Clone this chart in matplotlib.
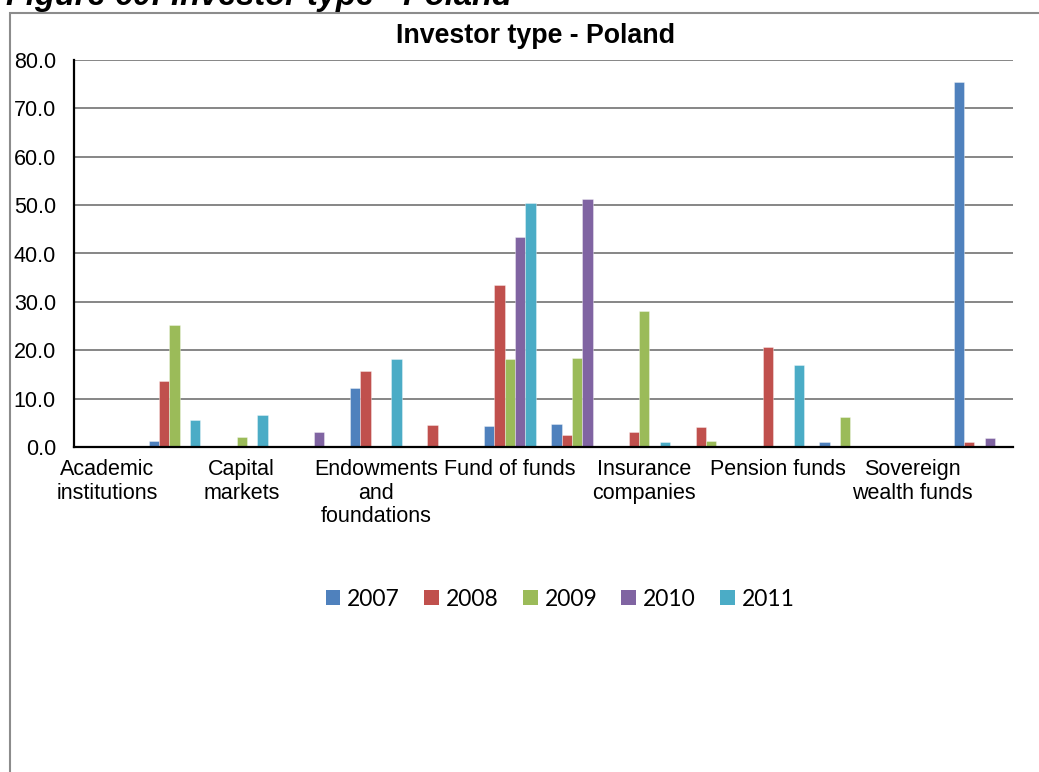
"""Investor type - Poland: share of funds raised by investor type, 2007-2011."""

import numpy as np
import matplotlib
matplotlib.use('Agg')
import matplotlib.pyplot as plt
from matplotlib.patches import Patch, Rectangle

plt.rcParams['font.family'] = ['Liberation Sans', 'DejaVu Sans']

# Investor types (every second one gets a visible axis label)
investor_types = [
    'Academic\ninstitutions', 'Banks', 'Capital\nmarkets', 'Corporate\ninvestors',
    'Endowments\nand\nfoundations', 'Family offices', 'Fund of funds', 'Government\nagencies',
    'Insurance\ncompanies', 'Other asset\nmanagers', 'Pension funds', 'Private\nindividuals',
    'Sovereign\nwealth funds', 'Unclassified',
]
years = ['2007', '2008', '2009', '2010', '2011']

# % of funds raised
share_2007 = [0, 1.3, 0, 0, 12.2, 0, 4.3, 4.8, 0, 0.2, 0, 1.0, 0, 75.5]
share_2008 = [0, 13.7, 0, 0, 15.7, 4.6, 33.4, 2.5, 3.2, 4.1, 20.6, 0.3, 0, 1.0]
share_2009 = [0, 25.2, 2.0, 0, 0, 0, 18.1, 18.4, 28.2, 1.2, 0, 6.3, 0, 0]
share_2010 = [0, 0, 0, 3.2, 0, 0, 43.5, 51.2, 0, 0, 0, 0, 0, 1.8]
share_2011 = [0, 5.5, 6.6, 0, 18.1, 0, 50.5, 0, 1.0, 0, 16.9, 0, 0, 0]
series = [share_2007, share_2008, share_2009, share_2010, share_2011]

colors = ['#4F81BD', '#C0504D', '#9BBB59', '#8064A2', '#4BACC6']

W, H = 1039, 772
fig = plt.figure(figsize=(W / 100, H / 100), dpi=100)

# page caption, partly cut by the top edge
fig.text(6 / W, 1 - 5 / H, 'Figure 60: Investor type - Poland', fontsize=23.5,
         fontweight='bold', fontstyle='italic', ha='left', va='baseline')

# chart frame
fig.add_artist(Rectangle((10 / W, -0.05), 1.2, (1 - 13 / H) + 0.05, transform=fig.transFigure,
                         fill=False, edgecolor='#8c8c8c', linewidth=1.5))

ax = fig.add_axes([74 / W, 1 - 447 / H, (1013 - 74) / W, (447 - 60) / H])

x = np.arange(len(investor_types))
w = 0.154
for i, (yr, vals, c) in enumerate(zip(years, series, colors)):
    ax.bar(x + (i - 2) * w, vals, w, color=c, edgecolor=(1, 1, 1, 0.5), linewidth=0.5,
           label=yr, zorder=2)

ax.set_xlim(-0.5, len(investor_types) - 0.5)
ax.set_ylim(0, 80)
ax.set_yticks(np.arange(0, 81, 10))
ax.set_yticklabels([f'{v:.1f}' for v in np.arange(0, 81, 10)])
ax.set_xticks(x[::2])
ax.set_xticklabels(investor_types[::2], linespacing=1.15)
ax.tick_params(axis='y', length=0, pad=13, labelsize=15.5)
ax.tick_params(axis='x', length=0, pad=9, labelsize=15.5)

ax.set_axisbelow(True)
ax.grid(axis='y', color='#868686', linewidth=1.4)
for s in ['top', 'right']:
    ax.spines[s].set_visible(False)
for s in ['left', 'bottom']:
    ax.spines[s].set_color('black')
    ax.spines[s].set_linewidth(1.6)
    ax.spines[s].set_zorder(3)

fig.text(536 / W, 1 - 36 / H, 'Investor type - Poland', fontsize=19.3, fontweight='bold',
         ha='center', va='center')

handles = [Patch(facecolor=c, label=yr) for yr, c in zip(years, colors)]
fig.legend(handles=handles, loc='center', bbox_to_anchor=(560 / W, 1 - 599 / H), ncol=5,
           frameon=False, prop={'family': ['Lato', 'DejaVu Sans'], 'size': 16.5},
           handlelength=0.65, handleheight=0.65, handletextpad=0.3, columnspacing=1.05)

fig.savefig('out.png', dpi=100)
plt.close(fig)
